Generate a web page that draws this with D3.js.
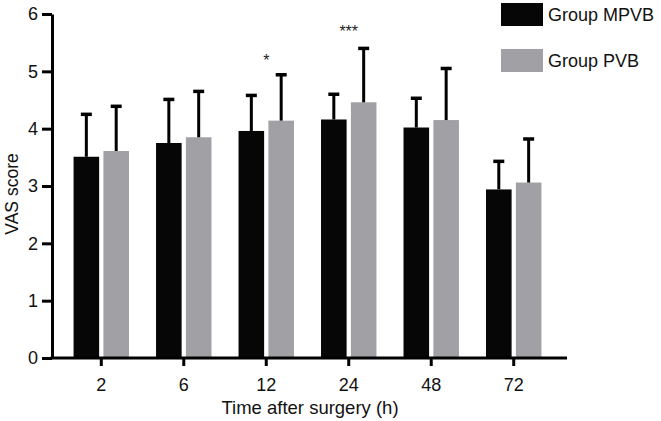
<!DOCTYPE html>
<html>
<head>
<meta charset="utf-8">
<script src="https://cdn.jsdelivr.net/npm/d3@7"></script>
<style>
  body { margin: 0; background: #fff; }
  svg { display: block; font-family: "Liberation Sans", Arial, Helvetica, sans-serif; }
</style>
</head>
<body>
<div class="chart"></div>
<script>
// time points (h)
const times = ['2', '6', '12', '24', '48', '72'];
const groups = ['Group MPVB', 'Group PVB'];
// mean VAS scores
const mpvbMean = [3.51, 3.75, 3.96, 4.16, 4.02, 2.94];
const pvbMean = [3.61, 3.85, 4.14, 4.46, 4.15, 3.06];
// standard deviations (upper error bar)
const mpvbSd = [0.74, 0.76, 0.62, 0.44, 0.51, 0.49];
const pvbSd = [0.78, 0.80, 0.80, 0.94, 0.90, 0.76];
const yTicks = [0, 1, 2, 3, 4, 5, 6];
// significance marks
const marks = [{ time: '12', text: '*', value: 5.09 }, { time: '24', text: '***', value: 5.6 }];

const colors = d3.scaleOrdinal().domain(groups).range(['#060606', '#a1a1a5']);

const width = 661, height = 421;
const svg = d3.select('.chart').append('svg')
  .attr('width', width)
  .attr('height', height);

const rows = times.map((t, i) => ({
  time: t,
  vals: [
    { group: groups[0], mean: mpvbMean[i], sd: mpvbSd[i] },
    { group: groups[1], mean: pvbMean[i], sd: pvbSd[i] }
  ]
}));

const x0 = d3.scaleBand().domain(times).range([46.5, 568.5]).padding(0.328);
const x1 = d3.scaleBand().domain(groups).range([0, x0.bandwidth()]).paddingInner(0.143);
const y = d3.scaleLinear().domain([0, 6]).range([358, 14]);

// bars
const g = svg.append('g');
const grp = g.selectAll('g.grp')
  .data(rows)
  .enter().append('g')
  .attr('class', 'grp')
  .attr('transform', d => `translate(${x0(d.time)},0)`);

grp.selectAll('rect')
  .data(d => d.vals)
  .enter().append('rect')
  .attr('x', d => x1(d.group))
  .attr('y', d => y(d.mean))
  .attr('width', x1.bandwidth())
  .attr('height', d => y(0) - y(d.mean))
  .attr('fill', d => colors(d.group));

// error bars
const capW = 11;
grp.selectAll('line.err')
  .data(d => d.vals)
  .enter().append('line')
  .attr('class', 'err')
  .attr('x1', d => x1(d.group) + x1.bandwidth() / 2)
  .attr('x2', d => x1(d.group) + x1.bandwidth() / 2)
  .attr('y1', d => y(d.mean))
  .attr('y2', d => y(d.mean + d.sd))
  .attr('stroke', '#000')
  .attr('stroke-width', 3);
grp.selectAll('line.cap')
  .data(d => d.vals)
  .enter().append('line')
  .attr('class', 'cap')
  .attr('x1', d => x1(d.group) + x1.bandwidth() / 2 - capW / 2)
  .attr('x2', d => x1(d.group) + x1.bandwidth() / 2 + capW / 2)
  .attr('y1', d => y(d.mean + d.sd))
  .attr('y2', d => y(d.mean + d.sd))
  .attr('stroke', '#000')
  .attr('stroke-width', 3.5);

// y axis
const yAxis = svg.append('g')
  .attr('transform', 'translate(52,0)')
  .call(d3.axisLeft(y).tickValues(yTicks).tickFormat(d3.format('d'))
    .tickSize(10).tickPadding(4).tickSizeOuter(0));
yAxis.select('.domain').attr('stroke-width', 3);
yAxis.selectAll('.tick line').attr('stroke-width', 3);
yAxis.selectAll('.tick text').attr('font-size', 18).attr('font-family', null).attr('fill', '#111');

// x axis
const xAxis = svg.append('g')
  .attr('transform', `translate(0,${y(0)})`)
  .call(d3.axisBottom(x0).tickSize(8).tickPadding(12).tickSizeOuter(0));
xAxis.select('.domain').remove();
xAxis.append('line')
  .attr('x1', 50.5).attr('x2', 567)
  .attr('stroke', '#000').attr('stroke-width', 3);
xAxis.selectAll('.tick line').attr('stroke-width', 3);
xAxis.selectAll('.tick text').attr('font-size', 18).attr('font-family', null).attr('fill', '#111');

// axis titles
svg.append('text')
  .attr('x', 310).attr('y', 414)
  .attr('text-anchor', 'middle')
  .attr('font-size', 18.5)
  .attr('fill', '#111')
  .text('Time after surgery (h)');
svg.append('text')
  .attr('transform', 'translate(18,194) rotate(-90)')
  .attr('text-anchor', 'middle')
  .attr('font-size', 17.5)
  .attr('fill', '#111')
  .text('VAS score');

// significance
svg.selectAll('text.sig')
  .data(marks)
  .enter().append('text')
  .attr('class', 'sig')
  .attr('x', d => x0(d.time) + x0.bandwidth() / 2)
  .attr('y', d => y(d.value))
  .attr('text-anchor', 'middle')
  .attr('font-size', 16)
  .attr('fill', '#222')
  .text(d => d.text);

// legend
const legend = svg.append('g');
const li = legend.selectAll('g')
  .data(groups)
  .enter().append('g')
  .attr('transform', (d, i) => `translate(501,${3 + i * 46})`);
li.append('rect')
  .attr('width', 42).attr('height', 23)
  .attr('fill', d => colors(d));
li.append('text')
  .attr('x', 47).attr('y', 18)
  .attr('font-size', 18)
  .attr('fill', '#111')
  .text(d => d);
</script>
</body>
</html>
